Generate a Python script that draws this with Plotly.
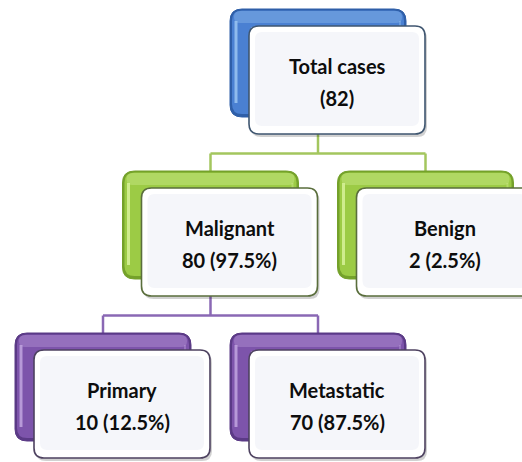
import plotly.graph_objects as go

# ---- data ----
names = ["Total cases", "Malignant", "Benign", "Primary", "Metastatic"]
counts = [82, 80, 2, 10, 70]
pct_labels = [None, 97.5, 2.5, 12.5, 87.5]
parents = [None, 0, 0, 1, 1]
levels = [0, 1, 1, 2, 2]
slots = [2, 1, 3, 0, 2]

# ---- layout constants (pixels) ----
W, H = 522, 462
SLOT_X0, SLOT_DX = 15, 107.5
ROW_Y0, ROW_DY = 9, 162
BW, BH = 176, 108
FDX, FDY = 19, 17
level_colors = [
    dict(base="#4a80d2", dark="#2f5fa8", light="#9cc6f2"),
    dict(base="#9ccb45", dark="#74a12a", light="#d8f29a"),
    dict(base="#7d54ab", dark="#5b3a86", light="#c2a6e0"),
]
line_colors = ["#a3c65e", "#8a68b4"]
front_border = ["#3f5670", "#5a6e3c", "#4e4260"]


def rr(x0, y0, x1, y1, r):
    return (f"M{x0+r},{y0} L{x1-r},{y0} Q{x1},{y0} {x1},{y0+r} "
            f"L{x1},{y1-r} Q{x1},{y1} {x1-r},{y1} L{x0+r},{y1} "
            f"Q{x0},{y1} {x0},{y1-r} L{x0},{y0+r} Q{x0},{y0} {x0+r},{y0} Z")


def box_pos(i):
    return SLOT_X0 + slots[i] * SLOT_DX, ROW_Y0 + levels[i] * ROW_DY


shapes = []
annotations = []

# connectors (between centres of the coloured back boxes)
for lvl in (1, 2):
    kids = [i for i in range(len(names)) if levels[i] == lvl]
    par = parents[kids[0]]
    px, py = box_pos(par)
    pcx = px + BW / 2
    pbottom = py + FDY + BH
    bus_y = (pbottom + box_pos(kids[0])[1]) / 2 + 1
    col = line_colors[lvl - 1]
    shapes.append(dict(type="line", x0=pcx, x1=pcx, y0=pbottom, y1=bus_y,
                       line=dict(color=col, width=2.5), layer="below"))
    kx = [box_pos(k)[0] + BW / 2 for k in kids]
    shapes.append(dict(type="line", x0=min(kx + [pcx]), x1=max(kx + [pcx]), y0=bus_y, y1=bus_y,
                       line=dict(color=col, width=2.5), layer="below"))
    for k in kids:
        x, y = box_pos(k)
        shapes.append(dict(type="line", x0=x + BW / 2, x1=x + BW / 2, y0=bus_y, y1=y + 2,
                           line=dict(color=col, width=2.5), layer="below"))

for i in range(len(names)):
    x, y = box_pos(i)
    c = level_colors[levels[i]]
    # back coloured box
    shapes.append(dict(type="path", path=rr(x, y, x + BW, y + BH, 12),
                       fillcolor=c["dark"], line=dict(color=c["dark"], width=1)))
    shapes.append(dict(type="path", path=rr(x + 2, y + 1.5, x + BW - 2, y + BH - 3, 10),
                       fillcolor=c["base"], line=dict(width=0)))
    shapes.append(dict(type="path", path=rr(x + 4, y + 2, x + BW - 4, y + 14, 6),
                       fillcolor=c["light"], opacity=0.35, line=dict(width=0)))
    shapes.append(dict(type="line", x0=x + 6, x1=x + 6, y0=y + 12, y1=y + BH - 14,
                       line=dict(color=c["light"], width=3), opacity=0.85))
    shapes.append(dict(type="line", x0=x + BW - 6, x1=x + BW - 6, y0=y + 12, y1=y + BH - 14,
                       line=dict(color=c["light"], width=2), opacity=0.4))
    # shadow of front box
    fx, fy = x + FDX, y + FDY
    shapes.append(dict(type="path", path=rr(fx + 2, fy + 3, fx + BW + 2, fy + BH + 3, 10),
                       fillcolor="rgba(0,0,0,0.18)", line=dict(width=0)))
    # front white box
    shapes.append(dict(type="path", path=rr(fx, fy, fx + BW, fy + BH, 10),
                       fillcolor="#ffffff", line=dict(color=front_border[levels[i]], width=1.6)))
    shapes.append(dict(type="path", path=rr(fx + 6, fy + 6, fx + BW - 6, fy + BH - 8, 7),
                       fillcolor="#f5f6fa", line=dict(width=0)))
    # text
    second = f"({counts[i]})" if pct_labels[i] is None else f"{counts[i]} ({pct_labels[i]}%)"
    cx = fx + BW / 2
    annotations.append(dict(x=cx, y=fy + 40, text=f"<b>{names[i]}</b>", showarrow=False,
                            font=dict(family="Lato", size=20, color="#0d0d0d"),
                            xanchor="center", yanchor="middle"))
    annotations.append(dict(x=cx, y=fy + 72, text=f"<b>{second}</b>", showarrow=False,
                            font=dict(family="Lato", size=20, color="#0d0d0d"),
                            xanchor="center", yanchor="middle"))

cxs = [box_pos(i)[0] + FDX + BW / 2 for i in range(len(names))]
cys = [box_pos(i)[1] + FDY + BH / 2 for i in range(len(names))]
fig = go.Figure(go.Scatter(x=cxs, y=cys, mode="markers", marker=dict(opacity=0),
                           hoverinfo="skip", showlegend=False))
fig.update_layout(
    width=W, height=H, margin=dict(l=0, r=0, t=0, b=0),
    paper_bgcolor="white", plot_bgcolor="white",
    xaxis=dict(range=[0, W], visible=False, fixedrange=True),
    yaxis=dict(range=[H, 0], visible=False, fixedrange=True),
    shapes=shapes, annotations=annotations, showlegend=False,
)
fig.write_html("out.html")
